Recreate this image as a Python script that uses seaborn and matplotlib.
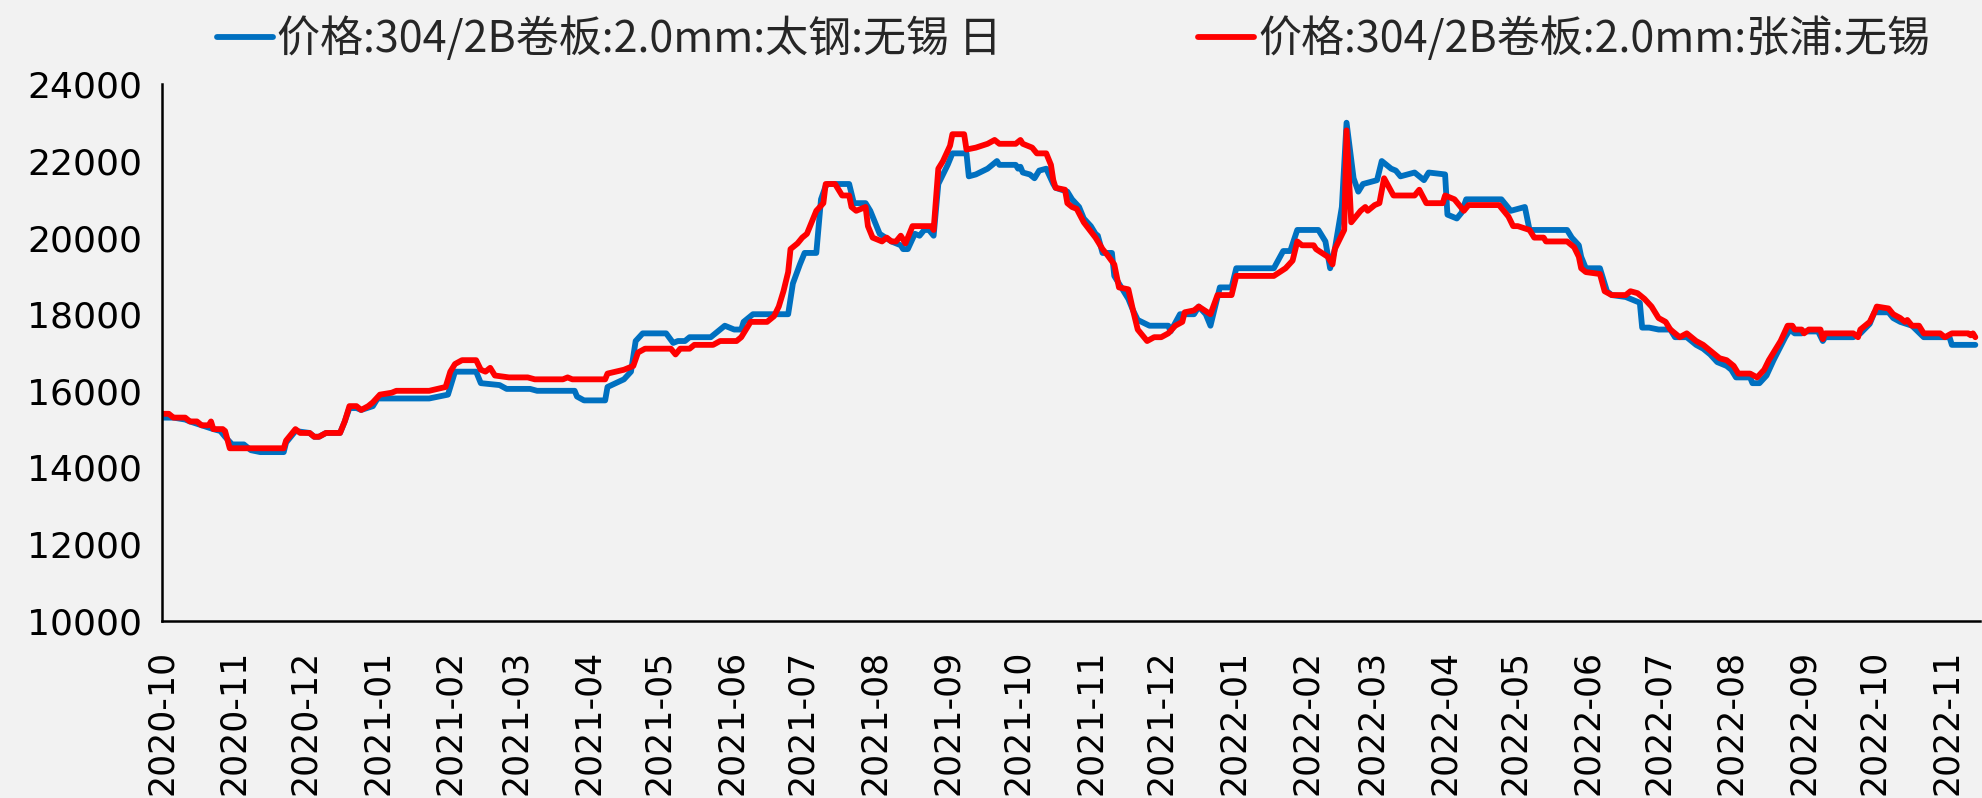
import pandas as pd
import matplotlib
matplotlib.use("Agg")
import matplotlib.pyplot as plt
import matplotlib.dates as mdates
import seaborn as sns

# series names (legend text)
name_tg = "价格:304/2B卷板:2.0mm:太钢:无锡 日"
name_zp = "价格:304/2B卷板:2.0mm:张浦:无锡"

# 太钢 (blue)
dates_tg = [
    "2020-10-01", "2020-10-06", "2020-10-11", "2020-10-13", "2020-10-18", "2020-10-23", "2020-10-26",
    "2020-10-28", "2020-10-31", "2020-11-05", "2020-11-08", "2020-11-12", "2020-11-22", "2020-11-23",
    "2020-11-27", "2020-12-03", "2020-12-05", "2020-12-07", "2020-12-10", "2020-12-16", "2020-12-18",
    "2020-12-20", "2020-12-23", "2020-12-25", "2020-12-30", "2021-01-01", "2021-01-23", "2021-01-31",
    "2021-02-03", "2021-02-12", "2021-02-14", "2021-02-22", "2021-02-25", "2021-03-07", "2021-03-10",
    "2021-03-26", "2021-03-27", "2021-03-30", "2021-04-08", "2021-04-09", "2021-04-16", "2021-04-19",
    "2021-04-21", "2021-04-24", "2021-05-04", "2021-05-07", "2021-05-09", "2021-05-12", "2021-05-14",
    "2021-05-23", "2021-05-29", "2021-06-02", "2021-06-05", "2021-06-06", "2021-06-10", "2021-06-25",
    "2021-06-27", "2021-06-30", "2021-07-02", "2021-07-07", "2021-07-09", "2021-07-11", "2021-07-12",
    "2021-07-21", "2021-07-23", "2021-07-28", "2021-07-30", "2021-08-01", "2021-08-03", "2021-08-08",
    "2021-08-12", "2021-08-13", "2021-08-15", "2021-08-18", "2021-08-20", "2021-08-22", "2021-08-24",
    "2021-08-26", "2021-08-28", "2021-09-01", "2021-09-03", "2021-09-09", "2021-09-10", "2021-09-13",
    "2021-09-18", "2021-09-22", "2021-09-23", "2021-09-30", "2021-10-01", "2021-10-02", "2021-10-03",
    "2021-10-06", "2021-10-08", "2021-10-10", "2021-10-13", "2021-10-16", "2021-10-17", "2021-10-22",
    "2021-10-24", "2021-10-27", "2021-10-29", "2021-11-01", "2021-11-03", "2021-11-04", "2021-11-06",
    "2021-11-10", "2021-11-11", "2021-11-13", "2021-11-17", "2021-11-19", "2021-11-21", "2021-11-26",
    "2021-12-04", "2021-12-05", "2021-12-09", "2021-12-15", "2021-12-17", "2021-12-20", "2021-12-22",
    "2021-12-26", "2021-12-31", "2022-01-02", "2022-01-18", "2022-01-22", "2022-01-25", "2022-01-28",
    "2022-02-06", "2022-02-09", "2022-02-11", "2022-02-13", "2022-02-16", "2022-02-18", "2022-02-21",
    "2022-02-23", "2022-02-25", "2022-02-28", "2022-03-03", "2022-03-05", "2022-03-09", "2022-03-11",
    "2022-03-13", "2022-03-19", "2022-03-23", "2022-03-25", "2022-04-01", "2022-04-02", "2022-04-06",
    "2022-04-08", "2022-04-10", "2022-04-25", "2022-04-29", "2022-05-02", "2022-05-05", "2022-05-07",
    "2022-05-23", "2022-05-25", "2022-05-28", "2022-05-29", "2022-05-31", "2022-06-06", "2022-06-09",
    "2022-06-11", "2022-06-17", "2022-06-19", "2022-06-23", "2022-06-24", "2022-06-27", "2022-07-01",
    "2022-07-06", "2022-07-08", "2022-07-13", "2022-07-17", "2022-07-20", "2022-07-23", "2022-07-26",
    "2022-07-30", "2022-08-01", "2022-08-03", "2022-08-09", "2022-08-10", "2022-08-13", "2022-08-16",
    "2022-08-19", "2022-08-24", "2022-08-26", "2022-08-28", "2022-08-31", "2022-09-01", "2022-09-07",
    "2022-09-09", "2022-09-10", "2022-09-22", "2022-09-25", "2022-09-29", "2022-10-01", "2022-10-07",
    "2022-10-09", "2022-10-12", "2022-10-17", "2022-10-22", "2022-11-02", "2022-11-03", "2022-11-13",
]
price_tg = [
    15300, 15300, 15250, 15200, 15100, 15000, 14950,
    14800, 14600, 14600, 14450, 14400, 14400, 14650,
    14950, 14900, 14800, 14800, 14900, 14900, 15200,
    15550, 15550, 15500, 15600, 15800, 15800, 15900,
    16500, 16500, 16200, 16150, 16050, 16050, 16000,
    16000, 15850, 15750, 15750, 16100, 16300, 16500,
    17300, 17500, 17500, 17250, 17300, 17300, 17400,
    17400, 17700, 17600, 17600, 17800, 18000, 18000,
    18800, 19300, 19600, 19600, 21000, 21350, 21400,
    21400, 20900, 20900, 20700, 20400, 20100, 19900,
    19800, 19700, 19700, 20100, 20050, 20200, 20200,
    20050, 21400, 21900, 22200, 22200, 21600, 21650,
    21800, 22000, 21900, 21900, 21800, 21850, 21700,
    21650, 21550, 21750, 21800, 21400, 21300, 21200,
    21000, 20800, 20500, 20300, 20100, 20050, 19600,
    19600, 19000, 18800, 18400, 18100, 17850, 17700,
    17700, 17550, 18000, 18000, 18200, 18000, 17700,
    18700, 18700, 19200, 19200, 19650, 19650, 20200,
    20200, 19900, 19200, 19700, 20800, 23000, 21550,
    21200, 21400, 21450, 21500, 22000, 21800, 21750,
    21600, 21700, 21500, 21700, 21650, 20600, 20500,
    20650, 21000, 21000, 20700, 20750, 20800, 20200,
    20200, 20000, 19800, 19500, 19200, 19200, 18600,
    18500, 18450, 18400, 18300, 17650, 17650, 17600,
    17600, 17400, 17400, 17200, 17100, 16950, 16750,
    16650, 16550, 16350, 16350, 16200, 16200, 16400,
    16800, 17400, 17600, 17500, 17500, 17550, 17550,
    17300, 17400, 17400, 17500, 17750, 18050, 18050,
    17900, 17800, 17700, 17400, 17400, 17200, 17200,
]

# 张浦 (red)
dates_zp = [
    "2020-10-01", "2020-10-04", "2020-10-06", "2020-10-11", "2020-10-13", "2020-10-16", "2020-10-18",
    "2020-10-21", "2020-10-22", "2020-10-23", "2020-10-27", "2020-10-28", "2020-10-30", "2020-11-22",
    "2020-11-23", "2020-11-25", "2020-11-27", "2020-11-29", "2020-12-03", "2020-12-05", "2020-12-07",
    "2020-12-10", "2020-12-16", "2020-12-18", "2020-12-20", "2020-12-23", "2020-12-25", "2020-12-28",
    "2020-12-30", "2021-01-02", "2021-01-07", "2021-01-09", "2021-01-23", "2021-01-30", "2021-02-01",
    "2021-02-03", "2021-02-06", "2021-02-12", "2021-02-14", "2021-02-16", "2021-02-18", "2021-02-20",
    "2021-02-26", "2021-03-06", "2021-03-09", "2021-03-21", "2021-03-23", "2021-03-25", "2021-04-08",
    "2021-04-09", "2021-04-16", "2021-04-20", "2021-04-22", "2021-04-25", "2021-05-06", "2021-05-08",
    "2021-05-10", "2021-05-14", "2021-05-16", "2021-05-24", "2021-05-27", "2021-06-03", "2021-06-05",
    "2021-06-09", "2021-06-16", "2021-06-19", "2021-06-21", "2021-06-23", "2021-06-25", "2021-06-26",
    "2021-06-29", "2021-07-01", "2021-07-03", "2021-07-07", "2021-07-10", "2021-07-11", "2021-07-15",
    "2021-07-18", "2021-07-21", "2021-07-22", "2021-07-24", "2021-07-28", "2021-07-29", "2021-07-31",
    "2021-08-04", "2021-08-06", "2021-08-08", "2021-08-10", "2021-08-12", "2021-08-14", "2021-08-17",
    "2021-08-25", "2021-08-26", "2021-08-28", "2021-08-30", "2021-09-02", "2021-09-03", "2021-09-08",
    "2021-09-09", "2021-09-13", "2021-09-18", "2021-09-21", "2021-09-23", "2021-09-30", "2021-10-02",
    "2021-10-03", "2021-10-07", "2021-10-09", "2021-10-13", "2021-10-15", "2021-10-16", "2021-10-17",
    "2021-10-21", "2021-10-22", "2021-10-24", "2021-10-26", "2021-10-29", "2021-11-03", "2021-11-05",
    "2021-11-06", "2021-11-08", "2021-11-11", "2021-11-13", "2021-11-17", "2021-11-19", "2021-11-21",
    "2021-11-25", "2021-11-28", "2021-12-01", "2021-12-04", "2021-12-07", "2021-12-10", "2021-12-11",
    "2021-12-15", "2021-12-17", "2021-12-22", "2021-12-25", "2021-12-31", "2022-01-02", "2022-01-18",
    "2022-01-23", "2022-01-26", "2022-01-28", "2022-01-30", "2022-02-04", "2022-02-05", "2022-02-10",
    "2022-02-12", "2022-02-13", "2022-02-17", "2022-02-18", "2022-02-20", "2022-02-24", "2022-02-26",
    "2022-02-27", "2022-03-02", "2022-03-04", "2022-03-06", "2022-03-10", "2022-03-19", "2022-03-21",
    "2022-03-24", "2022-03-31", "2022-04-01", "2022-04-05", "2022-04-07", "2022-04-09", "2022-04-11",
    "2022-04-24", "2022-04-28", "2022-04-30", "2022-05-02", "2022-05-07", "2022-05-09", "2022-05-13",
    "2022-05-14", "2022-05-23", "2022-05-26", "2022-05-28", "2022-05-29", "2022-05-31", "2022-06-06",
    "2022-06-08", "2022-06-11", "2022-06-17", "2022-06-19", "2022-06-22", "2022-06-25", "2022-06-28",
    "2022-07-01", "2022-07-04", "2022-07-06", "2022-07-10", "2022-07-13", "2022-07-17", "2022-07-20",
    "2022-07-23", "2022-07-27", "2022-07-30", "2022-08-02", "2022-08-04", "2022-08-09", "2022-08-12",
    "2022-08-15", "2022-08-17", "2022-08-19", "2022-08-22", "2022-08-25", "2022-08-27", "2022-08-28",
    "2022-08-31", "2022-09-01", "2022-09-03", "2022-09-08", "2022-09-09", "2022-09-10", "2022-09-22",
    "2022-09-24", "2022-09-25", "2022-09-29", "2022-10-01", "2022-10-02", "2022-10-07", "2022-10-09",
    "2022-10-12", "2022-10-14", "2022-10-15", "2022-10-17", "2022-10-20", "2022-10-22", "2022-10-29",
    "2022-10-31", "2022-11-03", "2022-11-10", "2022-11-11", "2022-11-12", "2022-11-13",
]
price_zp = [
    15400, 15400, 15300, 15300, 15200, 15200, 15100,
    15100, 15200, 15000, 15000, 14950, 14500, 14500,
    14700, 14850, 15000, 14900, 14900, 14800, 14800,
    14900, 14900, 15200, 15600, 15600, 15500, 15600,
    15700, 15900, 15950, 16000, 16000, 16100, 16500,
    16700, 16800, 16800, 16550, 16500, 16600, 16400,
    16350, 16350, 16300, 16300, 16350, 16300, 16300,
    16450, 16550, 16650, 17000, 17100, 17100, 16950,
    17100, 17100, 17200, 17200, 17300, 17300, 17400,
    17800, 17800, 17950, 18200, 18600, 19100, 19700,
    19850, 20000, 20100, 20700, 20900, 21400, 21400,
    21100, 21100, 20800, 20700, 20800, 20300, 20000,
    19900, 20000, 19900, 19900, 20050, 19850, 20300,
    20300, 20200, 21800, 22000, 22400, 22700, 22700,
    22300, 22350, 22450, 22550, 22450, 22450, 22550,
    22450, 22350, 22200, 22200, 21900, 21500, 21300,
    21250, 20900, 20800, 20750, 20400, 20000, 19800,
    19700, 19550, 19300, 18700, 18650, 18100, 17600,
    17300, 17400, 17400, 17500, 17700, 17800, 18050,
    18100, 18200, 18000, 18500, 18500, 19000, 19000,
    19200, 19400, 19900, 19800, 19800, 19700, 19500,
    19300, 19700, 20200, 22800, 20400, 20700, 20800,
    20700, 20850, 20900, 21550, 21100, 21100, 21250,
    20900, 20900, 21100, 21000, 20850, 20700, 20850,
    20850, 20550, 20300, 20300, 20200, 20000, 20000,
    19900, 19900, 19750, 19500, 19200, 19100, 19050,
    18600, 18500, 18500, 18600, 18550, 18400, 18200,
    17900, 17800, 17600, 17400, 17500, 17300, 17200,
    17050, 16850, 16800, 16650, 16450, 16450, 16350,
    16550, 16800, 17000, 17300, 17700, 17700, 17600,
    17600, 17500, 17600, 17600, 17350, 17500, 17500,
    17400, 17600, 17800, 18050, 18200, 18150, 18000,
    17900, 17800, 17850, 17700, 17700, 17500, 17500,
    17400, 17500, 17500, 17450, 17500, 17400,
]

colors = {name_tg: "#0070C0", name_zp: "#FF0000"}

df = pd.concat([
    pd.DataFrame({"date": pd.to_datetime(dates_tg), "price": price_tg, "series": name_tg}),
    pd.DataFrame({"date": pd.to_datetime(dates_zp), "price": price_zp, "series": name_zp}),
], ignore_index=True)

sns.set_style("white")
plt.rcParams["font.family"] = ["DejaVu Sans", "Noto Sans CJK SC"]
bg = "#F2F2F2"

fig = plt.figure(figsize=(19.82, 7.98), dpi=100, facecolor=bg)
ax = fig.add_axes([0.0816, 0.2223, 0.9174, 0.6719])
ax.set_facecolor(bg)

sns.lineplot(
    data=df, x="date", y="price", hue="series",
    hue_order=[name_tg, name_zp], palette=colors,
    linewidth=4.2, estimator=None, legend=False, ax=ax,
)

# axes limits and ticks
ax.set_xlim(pd.Timestamp("2020-10-01"), pd.Timestamp("2022-11-15"))
ax.set_ylim(10000, 24000)
ax.set_yticks(range(10000, 24001, 2000))
ax.xaxis.set_major_locator(mdates.MonthLocator())
ax.xaxis.set_major_formatter(mdates.DateFormatter("%Y-%m"))
ax.set_xlabel("")
ax.set_ylabel("")

ax.tick_params(axis="y", direction="in", length=11, width=1.5, labelsize=26, pad=14, colors="black")
ax.tick_params(axis="x", direction="out", length=9, width=1.5, labelsize=25, pad=12,
               labelrotation=90, colors="black")

for side in ["top", "right"]:
    ax.spines[side].set_visible(False)
for side in ["left", "bottom"]:
    ax.spines[side].set_color("black")
    ax.spines[side].set_linewidth(1.8)

# two legend entries placed like the original
lines = ax.get_lines()
legend_font = {"family": ["Noto Sans CJK SC", "DejaVu Sans"], "size": 31}
fig.legend([lines[0]], [name_tg], loc="center left", bbox_to_anchor=(217 / 1982, 1 - 40 / 798),
           frameon=False, prop=legend_font, handlelength=1.3, handletextpad=0.1,
           borderpad=0, borderaxespad=0)
fig.legend([lines[1]], [name_zp], loc="center left", bbox_to_anchor=(1198 / 1982, 1 - 40 / 798),
           frameon=False, prop=legend_font, handlelength=1.3, handletextpad=0.1,
           borderpad=0, borderaxespad=0)

fig.savefig("out.png", dpi=100, facecolor=bg)
